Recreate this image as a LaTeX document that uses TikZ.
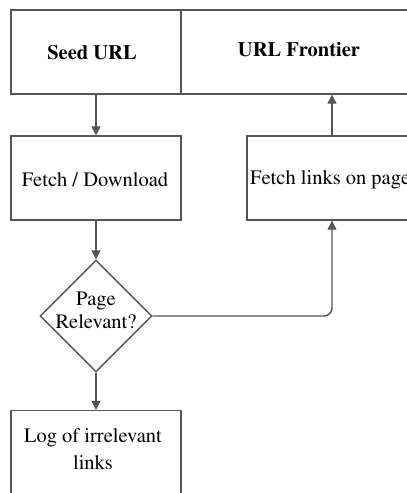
\documentclass[tikz,border=0pt]{standalone}
\usepackage[T1]{fontenc}
\usepackage{mathptmx}
\usetikzlibrary{arrows.meta,shapes.geometric,positioning}
\definecolor{edge}{HTML}{555555}
\tikzset{
  txt/.style={font=\rmfamily\fontsize{20.5}{24}\selectfont},
  boldtxt/.style={font=\rmfamily\fontsize{20.5}{24}\selectfont\bfseries},
  box/.style={draw=edge,line width=1.4pt,fill=white,rectangle,inner sep=0pt,txt},
  decision/.style={draw=edge,line width=1.4pt,fill=white,diamond,aspect=1,inner sep=0pt,
    minimum width=112pt,minimum height=112pt},
  arr/.style={draw=edge,line width=1.4pt,-{Triangle[width=9pt,length=9pt]}},
  link/.style={draw=edge,line width=1.4pt,rounded corners=8pt},
}
\begin{document}
\begin{tikzpicture}[x=1pt,y=-1pt]
  \useasboundingbox (0,0) rectangle (407,493);
  \clip (0,0) rectangle (407,493);
  \fill[white] (0,0) rectangle (407,493);

  % top row: seed and frontier
  \node[box,boldtxt,minimum width=170pt,minimum height=84pt] (seed) at (96,52) {};
  \node[boldtxt,inner sep=0pt] (seedtext) at (92,53) {Seed URL};
  \node[box,boldtxt,minimum width=236pt,minimum height=84pt] (frontier) at (299,52) {};
  \node[boldtxt,inner sep=0pt] (frontiertext) at (299,50) {URL Frontier};

  % second row
  \node[box,minimum width=170pt,minimum height=84pt] (fetch) at (96,178) {};
  \node[txt,inner sep=0pt] (fetchtext) at (95,180) {Fetch / Download};
  \node[box,minimum width=170pt,minimum height=84pt] (links) at (332,178) {};
  \node[txt,anchor=west,inner sep=0pt] (linkstext) at (250,180) {Fetch links on page};

  % decision
  \node[decision] (rel) at (96,316) {};
  \node[txt,align=center,inner sep=0pt] (reltext) at (96,310) {Page\\[-1pt]Relevant?};

  % log box
  \node[box,minimum width=170pt,minimum height=100pt,anchor=north] (log) at (96,410) {};
  \node[txt,align=center,anchor=north,inner sep=0pt] (logtext) at (93,428)
    {Log of irrelevant\\[3pt]links};

  % connectors
  \draw[arr] (seed.south) -- (fetch.north);
  \draw[arr] (fetch.south) -- (rel.north);
  \draw[arr] (rel.south) -- (log.north);
  \draw[arr] (links.north) -- (links.north |- frontier.south);
  \draw[link,-{Triangle[width=9pt,length=9pt]}] (rel.east) -| (links.south);
\end{tikzpicture}
\end{document}
